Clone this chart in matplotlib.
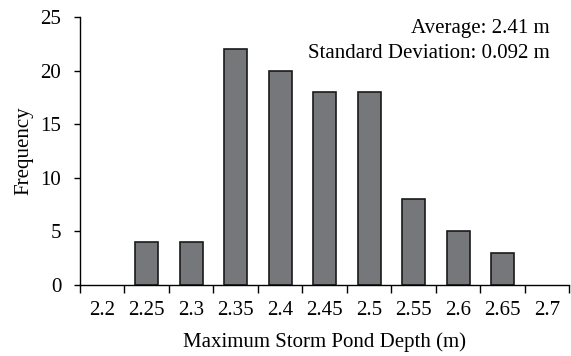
import matplotlib.pyplot as plt
import numpy as np

plt.rcParams['font.family'] = ['Liberation Serif', 'DejaVu Serif']
plt.rcParams['font.size'] = 15

depths = ['2.2', '2.25', '2.3', '2.35', '2.4', '2.45', '2.5', '2.55', '2.6', '2.65', '2.7']
counts = [0, 4, 4, 22, 20, 18, 18, 8, 5, 3, 0]
stats_text = ['Average: 2.41 m', 'Standard Deviation: 0.092 m']

fig = plt.figure(figsize=(5.71, 3.56), dpi=100)
ax = fig.add_axes([0.1401, 0.1994, 0.857, 0.752])

x = np.arange(len(depths))
# empty bins are not outlined (as in the Excel original)
edges = ['#1a1a1a' if c > 0 else 'none' for c in counts]
ax.bar(x, counts, width=0.52, color='#76777b', edgecolor=edges, linewidth=1.2)

ax.set_xlim(-0.5, len(depths) - 0.5)
ax.set_ylim(0, 25)
ax.set_yticks([0, 5, 10, 15, 20, 25])

# category axis: ticks on boundaries, labels centred on categories
ax.set_xticks(np.arange(len(depths) + 1) - 0.5)
ax.set_xticklabels([])
ax.set_xticks(x, minor=True)
ax.set_xticklabels(depths, minor=True)
ax.tick_params(axis='x', which='minor', length=0, pad=11.5)
ax.tick_params(axis='x', which='major', length=5.5, width=1)
ax.tick_params(axis='y', length=4, width=1, pad=9.5)

for s in ['top', 'right']:
    ax.spines[s].set_visible(False)
for s in ['left', 'bottom']:
    ax.spines[s].set_linewidth(1)

ax.set_xlabel('Maximum Storm Pond Depth (m)', labelpad=9)
ax.set_ylabel('Frequency', labelpad=5)

ax.text(0.959, 0.957, stats_text[0], transform=ax.transAxes, ha='right', va='center')
ax.text(0.959, 0.866, stats_text[1], transform=ax.transAxes, ha='right', va='center')

fig.savefig('out.png', dpi=100)
